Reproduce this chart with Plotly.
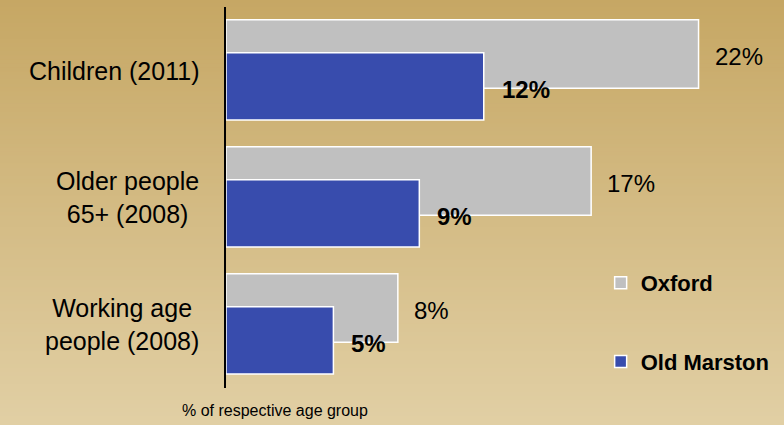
import plotly.graph_objects as go

# ---- data ----
categories = ["Children (2011)", "Older people<br>65+ (2008)", "Working age<br>people (2008)"]
oxford = [22, 17, 8]
old_marston = [12, 9, 5]
series_names = ["Oxford", "Old Marston"]
axis_title = "% of respective age group"

# ---- layout constants ----
W, H = 784, 425
ML, MT = 226, 7
PLOT_H = 381
X_MAX = 25
PX_PER_UNIT = 21.5
PLOT_W = X_MAX * PX_PER_UNIT
MR = W - ML - PLOT_W
MB = H - MT - PLOT_H

GREY = "#C0C0C0"
BLUE = "#384CAD"
FONT = "Liberation Sans, Arial, sans-serif"


def px_to_paper_y(py):
    return (H - MB - py) / PLOT_H


def px_to_paper_x(px):
    return (px - ML) / PLOT_W


fig = go.Figure()

fig.add_trace(go.Bar(
    name=series_names[0], y=categories, x=oxford, orientation="h",
    width=0.54, offset=-0.40,
    marker=dict(color=GREY, line=dict(color="white", width=1.5)),
    legendgroup="a",
))
fig.add_trace(go.Bar(
    name=series_names[1], y=categories, x=old_marston, orientation="h",
    width=0.53, offset=-0.14,
    marker=dict(color=BLUE, line=dict(color="white", width=1.5)),
    legendgroup="b",
))

annotations = []
# value labels
for i, v in enumerate(oxford):
    annotations.append(dict(
        x=v, y=i - 0.13, xref="x", yref="y", text=f"{v}%", showarrow=False,
        xanchor="left", yanchor="middle", xshift=14, yshift=-3,
        font=dict(family=FONT, size=24, color="black"),
    ))
for i, v in enumerate(old_marston):
    annotations.append(dict(
        x=v, y=i + 0.125, xref="x", yref="y", text=f"<b>{v}%</b>", showarrow=False,
        xanchor="left", yanchor="middle", xshift=16, yshift=-3,
        font=dict(family=FONT, size=24, color="black"),
    ))
# category labels (centred lines, right edge near the axis)
for i, cat in enumerate(categories):
    annotations.append(dict(
        x=0, y=i, xref="paper", yref="y", text=cat, showarrow=False,
        xanchor="right", yanchor="middle", align="center", xshift=-25,
        font=dict(family=FONT, size=25, color="black"),
    ))
# axis title
annotations.append(dict(
    x=px_to_paper_x(275), y=px_to_paper_y(410), xref="paper", yref="paper",
    text=axis_title, showarrow=False, xanchor="center", yanchor="middle",
    font=dict(family=FONT, size=16, color="black"),
))

# vertical background gradient, darker gold at the top
shapes = []
top = (198, 167, 100)
bot = (225, 207, 164)
n = 106
step = H / n
for k in range(n):
    t = k / (n - 1)
    c = tuple(round(a + (b - a) * t) for a, b in zip(top, bot))
    p_top = k * step - 1
    p_bot = (k + 1) * step + 1
    shapes.append(dict(
        type="rect", xref="paper", yref="paper", layer="below",
        x0=px_to_paper_x(-2), x1=px_to_paper_x(W + 2),
        y0=px_to_paper_y(p_bot), y1=px_to_paper_y(p_top),
        fillcolor="rgb(%d,%d,%d)" % c, line=dict(width=0),
    ))

fig.update_layout(
    width=W, height=H,
    margin=dict(l=ML, r=MR, t=MT, b=MB, pad=0),
    paper_bgcolor="rgb(212,188,134)",
    plot_bgcolor="rgba(0,0,0,0)",
    barmode="overlay",
    showlegend=True,
    legend=dict(
        x=px_to_paper_x(601), xanchor="left",
        y=px_to_paper_y(262), yanchor="top",
        bgcolor="rgba(0,0,0,0)", borderwidth=0,
        font=dict(family=FONT, size=22, color="black", weight="bold"),
        tracegroupgap=47, itemwidth=30, traceorder="grouped",
    ),
    xaxis=dict(range=[0, X_MAX], showgrid=False, zeroline=False, showticklabels=False,
               showline=False, ticks=""),
    yaxis=dict(range=[2.5, -0.5], showgrid=False, zeroline=False, showticklabels=False,
               showline=True, linecolor="black", linewidth=1.5, ticks="",
               type="category", categoryorder="array", categoryarray=categories),
    annotations=annotations,
    shapes=shapes,
)

fig.write_html("out.html")
